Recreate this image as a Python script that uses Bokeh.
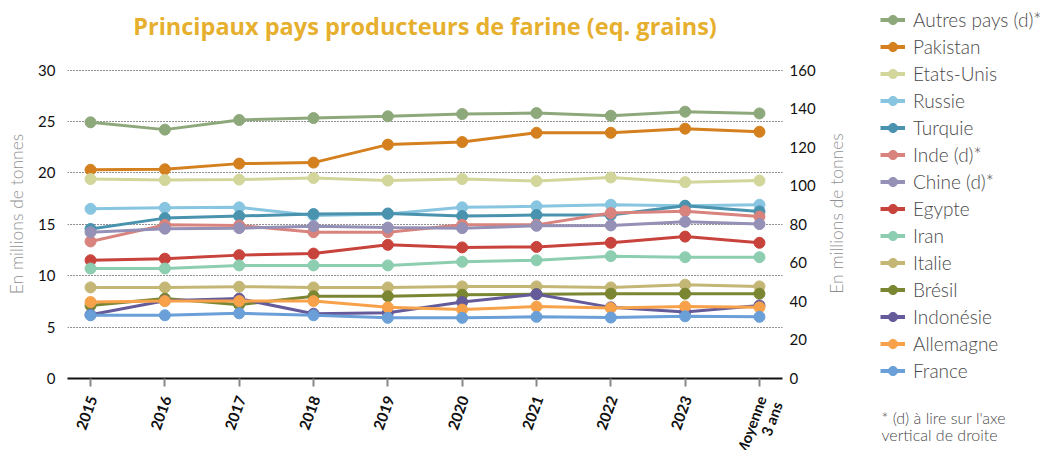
import math
from bokeh.plotting import figure
from bokeh.layouts import row, column
from bokeh.models import (Range1d, LinearAxis, FixedTicker, Legend, LegendItem, Label,
                          LabelSet, ColumnDataSource)
from bokeh.core.properties import value
from bokeh.embed import file_html
from bokeh.resources import INLINE

# ---------------- data ----------------
categories = ["2015", "2016", "2017", "2018", "2019", "2020", "2021", "2022", "2023", "Moyenne\n3 ans"]

series_names = ["Autres pays (d)*", "Pakistan", "Etats-Unis", "Russie", "Turquie", "Inde (d)*",
                "Chine (d)*", "Egypte", "Iran", "Italie", "Brésil", "Indonésie", "Allemagne", "France"]

# values in millions of tonnes; (d) series are read on the right axis
autres_pays = [132.9, 129.1, 134.1, 135.1, 136.0, 137.2, 137.7, 136.3, 138.4, 137.5]
pakistan    = [20.3, 20.35, 20.9, 21.0, 22.75, 23.0, 23.9, 23.9, 24.3, 24.0]
etats_unis  = [19.4, 19.3, 19.35, 19.5, 19.25, 19.4, 19.2, 19.55, 19.1, 19.25]
russie      = [16.5, 16.6, 16.65, 15.85, 16.0, 16.65, 16.75, 16.9, 16.8, 16.9]
turquie     = [14.55, 15.6, 15.8, 16.0, 16.05, 15.8, 15.9, 15.9, 16.8, 16.25]
inde        = [71.1, 79.7, 79.4, 75.9, 75.9, 79.7, 79.7, 85.8, 86.8, 84.0]
chine       = [75.9, 77.7, 78.0, 79.0, 78.3, 78.0, 79.2, 79.4, 81.3, 80.1]
egypte      = [11.5, 11.65, 12.0, 12.15, 13.0, 12.75, 12.8, 13.2, 13.8, 13.2]
iran        = [10.7, 10.7, 11.0, 11.0, 11.0, 11.35, 11.5, 11.9, 11.8, 11.8]
italie      = [8.86, 8.86, 8.93, 8.86, 8.86, 8.96, 8.96, 8.86, 9.12, 8.96]
bresil      = [7.1, 7.77, 7.18, 8.0, 8.0, 8.15, 8.2, 8.25, 8.25, 8.25]
indonesie   = [6.2, 7.57, 7.77, 6.3, 6.4, 7.44, 8.2, 6.92, 6.47, 7.1]
allemagne   = [7.44, 7.53, 7.53, 7.53, 6.92, 6.7, 7.0, 6.86, 7.0, 6.92]
france      = [6.15, 6.15, 6.34, 6.15, 5.9, 5.9, 6.0, 5.93, 6.05, 6.0]

series_values = [autres_pays, pakistan, etats_unis, russie, turquie, inde, chine,
                 egypte, iran, italie, bresil, indonesie, allemagne, france]
on_right_axis = [True, False, False, False, False, True, True,
                 False, False, False, False, False, False, False]

colors = ["#8DA87B", "#D4801E", "#D3D69B", "#88C5E0", "#4A93AF", "#D8837D", "#9590B5",
          "#C8433B", "#8DCDB0", "#C4B675", "#7B8632", "#655B9A", "#F7A24B", "#6A9FD8"]

left_ticks = [0, 5, 10, 15, 20, 25, 30]
grid_ticks = [5, 10, 15, 20, 25, 30]
right_ticks = [0, 20, 40, 60, 80, 100, 120, 140, 160]

title_text = "Principaux pays producteurs de farine (eq. grains)"
axis_title = "En millions de tonnes"
footnote = "* (d) à lire sur l'axe\nvertical de droite"

LIGHT = "Lato Light, Lato"

# ---------------- geometry ----------------
W, H = 1047, 450
B_LEFT, B_RIGHT, B_TOP, B_AXIS = 67, 44, 48, 12
FRAME_W = 715
FRAME_H = 330
W1 = B_LEFT + FRAME_W + B_RIGHT
W2 = W - W1
H1 = B_TOP + FRAME_H + B_AXIS
H_LAB = H - H1

x_idx = list(range(len(categories)))
xr0, xr1 = -0.31, len(categories) - 1 + 0.31
ppu = FRAME_W / (xr1 - xr0)

# ---------------- main figure ----------------
p = figure(width=W1, height=H1,
           x_range=Range1d(xr0, xr1), y_range=Range1d(0, 32),
           output_backend="svg", toolbar_location=None,
           min_border_left=B_LEFT, min_border_right=B_RIGHT,
           min_border_top=B_TOP, min_border_bottom=B_AXIS)
p.frame_align = False
p.extra_y_ranges = {"right": Range1d(0, 32 * 160 / 30)}
p.outline_line_color = None
p.background_fill_color = "white"
p.border_fill_color = "white"

p.title.text = title_text
p.title.align = "center"
p.title.offset = -5
p.title.standoff = 15
p.title.text_font = "Open Sans"
p.title.text_font_style = "bold"
p.title.text_font_size = "23.5px"
p.title.text_color = "#E6AF2E"

# x axis: line and ticks here, category labels drawn just below (figure xf)
p.xaxis.ticker = FixedTicker(ticks=x_idx)
p.xaxis.major_label_text_color = None
p.xaxis.axis_line_color = "#111111"
p.xaxis.axis_line_width = 2
p.xaxis.major_tick_line_color = "#888888"
p.xaxis.major_tick_line_width = 2
p.xaxis.major_tick_out = 8
p.xaxis.major_tick_in = 0
p.xaxis.minor_tick_line_color = None
p.xgrid.grid_line_color = None

# left axis
p.yaxis.ticker = FixedTicker(ticks=left_ticks)
p.yaxis.axis_line_color = None
p.yaxis.major_tick_line_color = None
p.yaxis.minor_tick_line_color = None
p.yaxis.major_label_text_font = "Lato"
p.yaxis.major_label_text_font_size = "15px"
p.yaxis.major_label_text_color = "#111111"
p.yaxis.major_label_standoff = 6
p.yaxis.axis_label = axis_title
p.yaxis.axis_label_text_font = LIGHT
p.yaxis.axis_label_text_font_style = "normal"
p.yaxis.axis_label_text_font_size = "17.5px"
p.yaxis.axis_label_text_color = "#8F8F8F"
p.yaxis.axis_label_standoff = 8

p.ygrid.ticker = FixedTicker(ticks=grid_ticks)
p.ygrid.grid_line_color = "#222222"
p.ygrid.grid_line_dash = "1 2"
p.ygrid.grid_line_width = 1

ra = LinearAxis(y_range_name="right", ticker=FixedTicker(ticks=right_ticks))
ra.axis_line_color = None
ra.major_tick_line_color = None
ra.minor_tick_line_color = None
ra.major_label_text_font = "Lato"
ra.major_label_text_font_size = "15px"
ra.major_label_text_color = "#111111"
ra.major_label_standoff = 1
p.add_layout(ra, "right")

for name, vals, right, col in zip(series_names, series_values, on_right_axis, colors):
    kw = {"y_range_name": "right"} if right else {}
    p.line(x_idx, vals, line_color=col, line_width=3, **kw)
    p.scatter(x_idx, vals, marker="circle", size=11, fill_color=col, line_color=col, **kw)

# ---------------- category labels strip (same x scale as the main frame) ----------------
xf = figure(width=W1, height=H_LAB,
            x_range=Range1d(xr0 - B_LEFT / ppu, xr1 + B_RIGHT / ppu), y_range=Range1d(0, H_LAB),
            x_axis_type=None, y_axis_type=None, output_backend="svg", toolbar_location=None,
            min_border=0, title=None)
xf.frame_align = False
xf.outline_line_color = None
xf.grid.visible = False

ANG = 70 * math.pi / 180
LINE_H = 17
lx, lt, lxo, lyo = [], [], [], []
for i, cat in zip(x_idx, categories):
    for k, line in enumerate(cat.split("\n")):
        d = k * LINE_H   # each further line sits one line-height "below" in the rotated frame
        lx.append(i)
        lt.append(line)
        lxo.append(2 + d * math.sin(ANG))
        lyo.append(-6 - d * math.cos(ANG))
lab_src = ColumnDataSource(dict(x=lx, y=[H_LAB] * len(lx), text=lt, xo=lxo, yo=lyo))
xf.add_layout(LabelSet(x="x", y="y", text="text", source=lab_src, angle=ANG,
                       x_offset="xo", y_offset="yo", text_align="right", text_baseline="middle",
                       text_font=value("Lato"), text_font_style="bold", text_font_size="15px",
                       text_color="#111111"))

# ---------------- side panel: right-axis title, legend, footnote ----------------
q = figure(width=W2, height=H, x_range=Range1d(0, W2), y_range=Range1d(0, H),
           x_axis_type=None, y_axis_type=None, output_backend="svg", toolbar_location=None,
           min_border=0, title=None)
q.frame_align = False
q.outline_line_color = None
q.grid.visible = False

nan2 = [float("nan")] * 2
items = []
for name, col in zip(series_names, colors):
    l = q.line(nan2, nan2, line_color=col, line_width=4)
    s = q.scatter(nan2, nan2, marker="circle", fill_color=col, line_color=col)
    items.append(LegendItem(label=name, renderers=[l, s]))

legend = Legend(items=items, location=(54, 68))
legend.border_line_color = None
legend.background_fill_alpha = 0
legend.padding = 0
legend.margin = 0
legend.spacing = 4
legend.glyph_width = 25
legend.glyph_height = 23
legend.label_height = 23
legend.label_standoff = 8
legend.label_text_font = LIGHT
legend.label_text_font_size = "19px"
legend.label_text_color = "#4A4A4A"
q.add_layout(legend, "center")

q.add_layout(Label(x=10, y=H - (B_TOP + FRAME_H / 2), text=axis_title, angle=math.pi / 2,
                   text_align="center", text_baseline="middle",
                   text_font=LIGHT, text_font_size="17.5px", text_color="#8F8F8F"))

q.add_layout(Label(x=55, y=43, text=footnote, text_font=LIGHT, text_font_size="16px",
                   text_color="#4A4A4A", text_baseline="top", text_align="left",
                   text_line_height=0.94))

open("out.html", "w").write(file_html(row(column(p, xf), q), INLINE))
